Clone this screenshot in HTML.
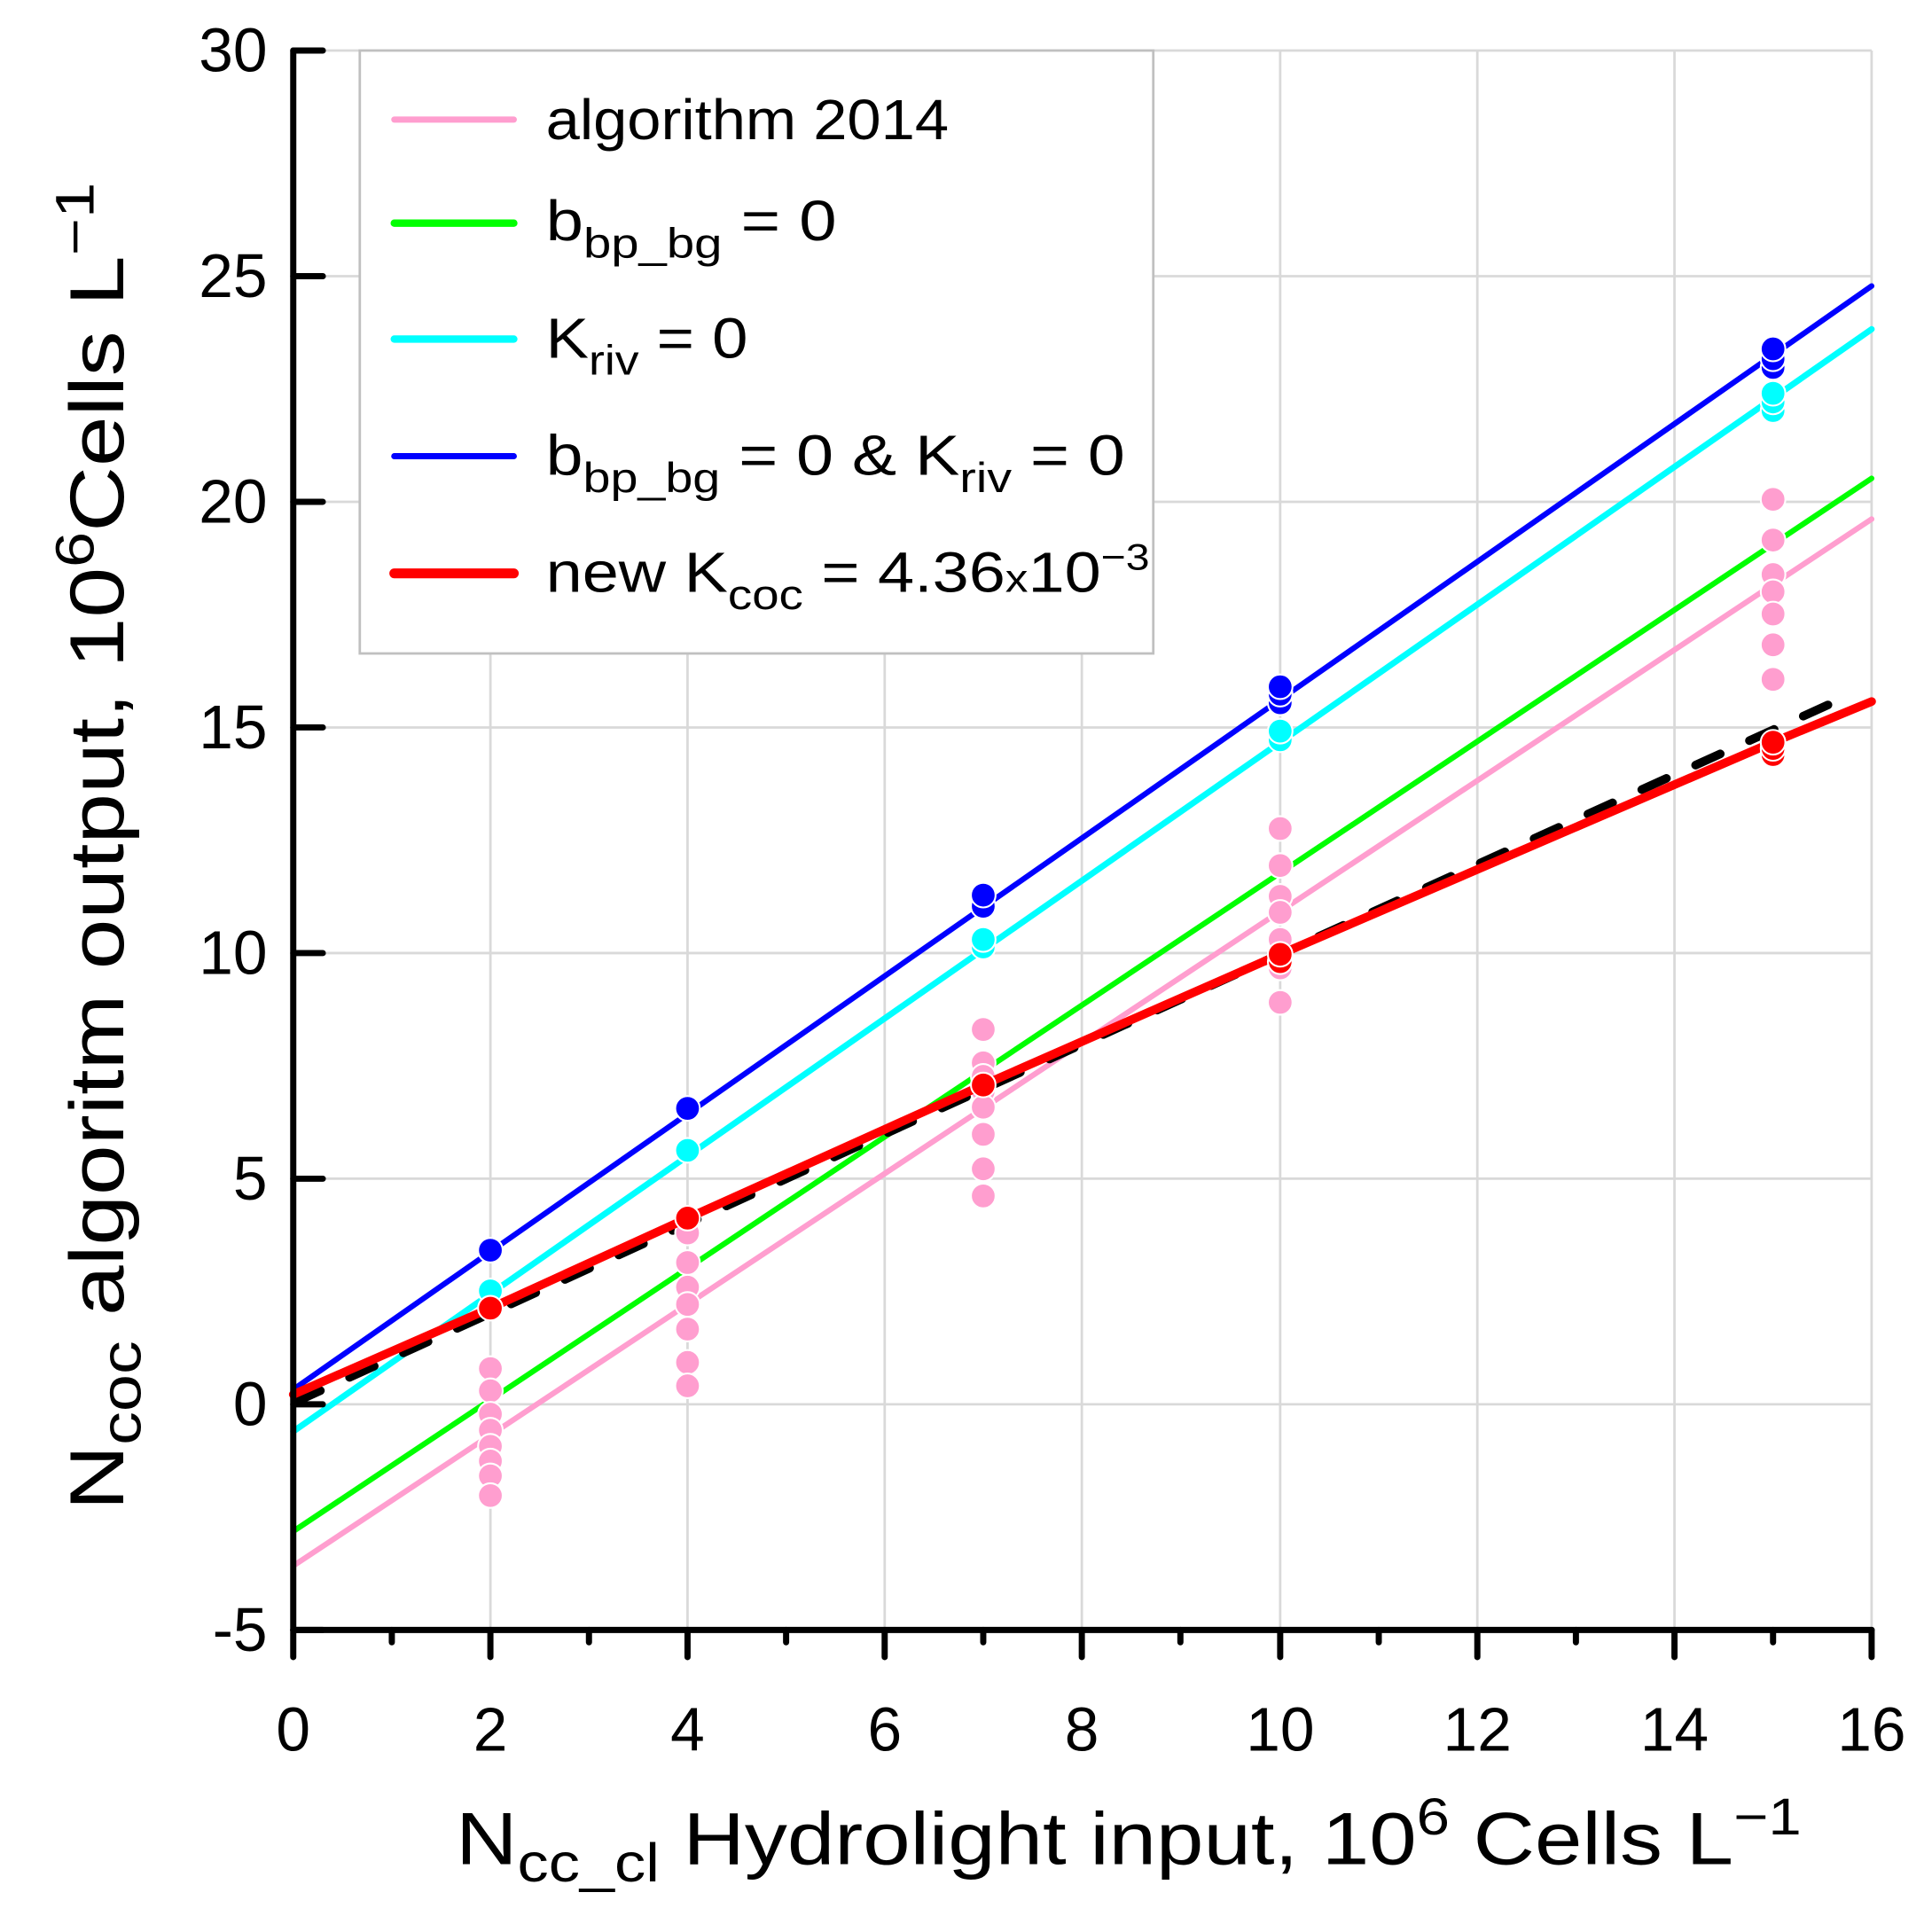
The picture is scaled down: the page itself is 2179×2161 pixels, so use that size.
<!DOCTYPE html>
<html><head><meta charset="utf-8"><style>html,body{margin:0;padding:0;background:#fff}svg{display:block}text{font-family:"Liberation Sans",sans-serif;fill:#000}</style></head>
<body>
<svg width="2179" height="2161" viewBox="0 0 1568 1554" preserveAspectRatio="none" xmlns="http://www.w3.org/2000/svg">
<rect width="1568" height="1554" fill="#fff"/>
<g stroke="#d9d9d9" stroke-width="2">
<line x1="398" y1="41" x2="398" y2="1322"/><line x1="558" y1="41" x2="558" y2="1322"/><line x1="718" y1="41" x2="718" y2="1322"/><line x1="878" y1="41" x2="878" y2="1322"/><line x1="1039" y1="41" x2="1039" y2="1322"/><line x1="1199" y1="41" x2="1199" y2="1322"/><line x1="1359" y1="41" x2="1359" y2="1322"/><line x1="1519" y1="41" x2="1519" y2="1322"/>
<line x1="238" y1="41" x2="1519" y2="41"/><line x1="238" y1="224" x2="1519" y2="224"/><line x1="238" y1="407" x2="1519" y2="407"/><line x1="238" y1="590" x2="1519" y2="590"/><line x1="238" y1="773" x2="1519" y2="773"/><line x1="238" y1="956" x2="1519" y2="956"/><line x1="238" y1="1139" x2="1519" y2="1139"/>
</g>
<rect x="292" y="41" width="644" height="489" fill="#fff" stroke="#c0c0c0" stroke-width="2"/>
<g stroke-linecap="round" fill="none">
<line x1="238" y1="1270" x2="1519" y2="421" stroke="#ff9ecf" stroke-width="4.5"/>
<line x1="238" y1="1242" x2="1519" y2="388" stroke="#00ff00" stroke-width="4.5"/>
<line x1="238" y1="1161" x2="1519" y2="267" stroke="#00ffff" stroke-width="5"/>
<line x1="238" y1="1127" x2="1519" y2="232" stroke="#0000ff" stroke-width="4.5"/>
<line x1="240" y1="1137" x2="1505" y2="562" stroke="#000" stroke-width="7" stroke-dasharray="22 26" stroke-linecap="round"/>
</g>
<g fill="#ff9ecf" stroke="#fff" stroke-width="1.5">
<circle cx="398" cy="1110" r="10"/><circle cx="398" cy="1128" r="10"/><circle cx="398" cy="1147" r="10"/><circle cx="398" cy="1160" r="10"/><circle cx="398" cy="1173" r="10"/><circle cx="398" cy="1185" r="10"/><circle cx="398" cy="1197" r="10"/><circle cx="398" cy="1213" r="10"/>
<circle cx="558" cy="1000" r="10"/><circle cx="558" cy="1024" r="10"/><circle cx="558" cy="1044" r="10"/><circle cx="558" cy="1058" r="10"/><circle cx="558" cy="1078" r="10"/><circle cx="558" cy="1105" r="10"/><circle cx="558" cy="1124" r="10"/>
<circle cx="798" cy="835" r="10"/><circle cx="798" cy="862" r="10"/><circle cx="798" cy="873" r="10"/><circle cx="798" cy="885" r="10"/><circle cx="798" cy="898" r="10"/><circle cx="798" cy="920" r="10"/><circle cx="798" cy="948" r="10"/><circle cx="798" cy="970" r="10"/>
<circle cx="1039" cy="672" r="10"/><circle cx="1039" cy="702" r="10"/><circle cx="1039" cy="727" r="10"/><circle cx="1039" cy="740" r="10"/><circle cx="1039" cy="762" r="10"/><circle cx="1039" cy="785" r="10"/><circle cx="1039" cy="813" r="10"/>
<circle cx="1439" cy="405" r="10"/><circle cx="1439" cy="438" r="10"/><circle cx="1439" cy="466" r="10"/><circle cx="1439" cy="480" r="10"/><circle cx="1439" cy="498" r="10"/><circle cx="1439" cy="523" r="10"/><circle cx="1439" cy="551" r="10"/>
</g>
<g fill="#0000ff" stroke="#fff" stroke-width="1.5">
<circle cx="398" cy="1014" r="10"/><circle cx="558" cy="899" r="10"/><circle cx="798" cy="735" r="10"/><circle cx="798" cy="726" r="10"/><circle cx="1039" cy="570" r="10"/><circle cx="1039" cy="563" r="10"/><circle cx="1039" cy="557" r="10"/><circle cx="1439" cy="298" r="10"/><circle cx="1439" cy="291" r="10"/><circle cx="1439" cy="283" r="10"/>
</g>
<g fill="#00ffff" stroke="#fff" stroke-width="1.5">
<circle cx="398" cy="1047" r="10"/><circle cx="558" cy="933" r="10"/><circle cx="798" cy="768" r="10"/><circle cx="798" cy="762" r="10"/><circle cx="1039" cy="600" r="10"/><circle cx="1039" cy="593" r="10"/><circle cx="1439" cy="333" r="10"/><circle cx="1439" cy="326" r="10"/><circle cx="1439" cy="319" r="10"/>
</g>
<polyline points="238,1131 398,1061 558,988 798,880 1039,774 1439,602 1519,569" fill="none" stroke="#ff0000" stroke-width="7" stroke-linejoin="round" stroke-linecap="round"/>
<g fill="#ff0000" stroke="#fff" stroke-width="1.5">
<circle cx="398" cy="1061" r="10"/><circle cx="558" cy="988" r="10"/><circle cx="798" cy="880" r="10"/><circle cx="1039" cy="780" r="10"/><circle cx="1039" cy="774" r="10"/><circle cx="1439" cy="612" r="10"/><circle cx="1439" cy="607" r="10"/><circle cx="1439" cy="602" r="10"/>
</g>
<g stroke="#000" stroke-width="5" stroke-linecap="round" fill="none">
<line x1="238" y1="41" x2="238" y2="1322"/>
<line x1="238" y1="1322" x2="1519" y2="1322"/>
<line x1="238" y1="41" x2="262" y2="41"/><line x1="238" y1="224" x2="262" y2="224"/><line x1="238" y1="407" x2="262" y2="407"/><line x1="238" y1="590" x2="262" y2="590"/><line x1="238" y1="773" x2="262" y2="773"/><line x1="238" y1="956" x2="262" y2="956"/><line x1="238" y1="1139" x2="262" y2="1139"/><line x1="238" y1="1322" x2="262" y2="1322"/>
<line x1="238" y1="1322" x2="238" y2="1344"/><line x1="398" y1="1322" x2="398" y2="1344"/><line x1="558" y1="1322" x2="558" y2="1344"/><line x1="718" y1="1322" x2="718" y2="1344"/><line x1="878" y1="1322" x2="878" y2="1344"/><line x1="1039" y1="1322" x2="1039" y2="1344"/><line x1="1199" y1="1322" x2="1199" y2="1344"/><line x1="1359" y1="1322" x2="1359" y2="1344"/><line x1="1519" y1="1322" x2="1519" y2="1344"/>
<line x1="318" y1="1322" x2="318" y2="1332"/><line x1="478" y1="1322" x2="478" y2="1332"/><line x1="638" y1="1322" x2="638" y2="1332"/><line x1="798" y1="1322" x2="798" y2="1332"/><line x1="958" y1="1322" x2="958" y2="1332"/><line x1="1119" y1="1322" x2="1119" y2="1332"/><line x1="1279" y1="1322" x2="1279" y2="1332"/><line x1="1439" y1="1322" x2="1439" y2="1332"/>
</g>
<g font-size="50" text-anchor="end">
<text x="217" y="58">30</text><text x="217" y="241">25</text><text x="217" y="424">20</text><text x="217" y="607">15</text><text x="217" y="790">10</text><text x="217" y="973">5</text><text x="217" y="1156">0</text><text x="217" y="1339">-5</text>
</g>
<g font-size="50" text-anchor="middle">
<text x="238" y="1420">0</text><text x="398" y="1420">2</text><text x="558" y="1420">4</text><text x="718" y="1420">6</text><text x="878" y="1420">8</text><text x="1039" y="1420">10</text><text x="1199" y="1420">12</text><text x="1359" y="1420">14</text><text x="1519" y="1420">16</text>
</g>
<g stroke-linecap="round">
<line x1="320" y1="97" x2="417" y2="97" stroke="#ff9ecf" stroke-width="5"/>
<line x1="320" y1="181" x2="417" y2="181" stroke="#00ff00" stroke-width="6"/>
<line x1="320" y1="275" x2="417" y2="275" stroke="#00ffff" stroke-width="6"/>
<line x1="320" y1="370" x2="417" y2="370" stroke="#0000ff" stroke-width="5"/>
<line x1="320" y1="465" x2="417" y2="465" stroke="#ff0000" stroke-width="8"/>
</g>
<g font-size="46">
<text x="443" y="113" textLength="327" lengthAdjust="spacingAndGlyphs">algorithm 2014</text>
<text x="443" y="195" textLength="236" lengthAdjust="spacingAndGlyphs">b<tspan font-size="34" dy="14">bp_bg</tspan><tspan dy="-14"> = 0</tspan></text>
<text x="443" y="290" textLength="164" lengthAdjust="spacingAndGlyphs">K<tspan font-size="34" dy="14">riv</tspan><tspan dy="-14"> = 0</tspan></text>
<text x="443" y="385" textLength="470" lengthAdjust="spacingAndGlyphs">b<tspan font-size="34" dy="14">bp_bg</tspan><tspan dy="-14"> = 0 &amp; K</tspan><tspan font-size="34" dy="14">riv</tspan><tspan dy="-14"> = 0</tspan></text>
<text x="443" y="480" textLength="490" lengthAdjust="spacingAndGlyphs">new K<tspan font-size="34" dy="14">coc</tspan><tspan dy="-14"> = 4.36</tspan><tspan font-size="32">x</tspan>10<tspan font-size="30" dy="-18">−3</tspan></text>
</g>
<text x="370" y="1512" font-size="60" textLength="1092" lengthAdjust="spacingAndGlyphs">N<tspan font-size="44" dy="14">cc_cl</tspan><tspan dy="-14"> Hydrolight input, 10</tspan><tspan font-size="42" dy="-24">6</tspan><tspan dy="24"> Cells L</tspan><tspan font-size="42" dy="-24">−1</tspan></text>
<text transform="translate(100,1225) rotate(-90)" x="0" y="0" font-size="62" textLength="1077" lengthAdjust="spacingAndGlyphs">N<tspan font-size="46" dy="14">coc</tspan><tspan dy="-14"> algoritm output, 10</tspan><tspan font-size="44" dy="-24">6</tspan><tspan dy="24">Cells L</tspan><tspan font-size="44" dy="-24">−1</tspan></text>
</svg>
</body></html>
